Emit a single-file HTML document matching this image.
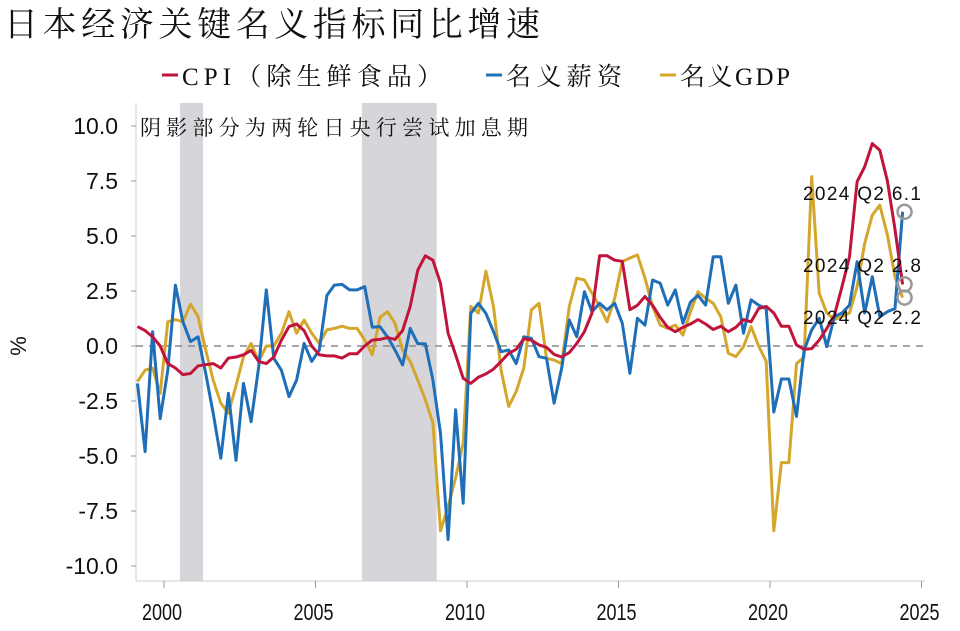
<!DOCTYPE html>
<html><head><meta charset="utf-8">
<style>
html,body{margin:0;padding:0;background:#fff;}
svg{display:block;}
text{font-family:"Liberation Sans","Noto Sans CJK SC",sans-serif;}
.cjk{font-family:"Liberation Serif","Noto Serif CJK SC",serif;}
</style></head>
<body>
<svg id="chart" width="960" height="631" viewBox="0 0 960 631" xmlns="http://www.w3.org/2000/svg">
<text x="4" y="36" class="cjk" font-size="34" fill="#111" textLength="536" lengthAdjust="spacing">日本经济关键名义指标同比增速</text>
<g>
 <g><line x1="162" y1="75" x2="178" y2="75" stroke="#c0143c" stroke-width="3"/><text x="182" y="85" class="cjk" font-size="25" fill="#111" textLength="260" lengthAdjust="spacing">CPI（除生鲜食品）</text></g>
 <g><line x1="486" y1="75" x2="502" y2="75" stroke="#1f6fb8" stroke-width="3"/><text x="506" y="85" class="cjk" font-size="25" fill="#111" textLength="116" lengthAdjust="spacing">名义薪资</text></g>
 <g><line x1="660" y1="75" x2="676" y2="75" stroke="#d4a72c" stroke-width="3"/><text x="680" y="85" class="cjk" font-size="25" fill="#111" textLength="110" lengthAdjust="spacing">名义GDP</text></g>
</g>
<g id="plot"></g>
<text x="140" y="135" class="cjk" font-size="21" fill="#111" textLength="388" lengthAdjust="spacing">阴影部分为两轮日央行尝试加息期</text>
<text transform="translate(26,346) rotate(-90)" text-anchor="middle" font-size="22" fill="#111">%</text>
</svg>
<script>
const quarters = [];
for (let y = 1999; y <= 2024; y++) for (let q = 1; q <= 4; q++) { if (y === 2024 && q > 2) break; quarters.push(y + 'Q' + q); }
const cpi = [0.88,0.7,0.42,0,-0.8,-1.0,-1.3,-1.25,-0.9,-0.85,
-0.8,-1.0,-0.55,-0.5,-0.4,-0.2,-0.7,-0.8,-0.5,0.27,
0.88,1.0,0.7,0,-0.4,-0.45,-0.45,-0.55,-0.35,-0.35,0,
0.27,0.3,0.38,0.3,0.7,1.8,3.45,4.1,3.9,2.85,
0.58,-0.4,-1.47,-1.7,-1.42,-1.27,-1.05,-0.7,-0.33,-0.15,
0.33,0.27,0.05,-0.06,-0.38,-0.5,-0.3,0.12,0.65,1.5,
4.1,4.1,3.9,3.85,1.65,1.85,2.25,1.85,1.3,0.85,
0.65,0.85,1.0,1.2,1.0,0.75,0.9,0.65,0.85,1.2,
1.1,1.7,1.8,1.5,0.9,0.9,0.05,-0.15,-0.12,0.27,0.8,
1.4,2.7,4.06,7.47,8.15,9.2,8.9,7.5,5.3,2.8];
const wage = [-1.7,-4.8,0.65,-3.3,-1.1,2.77,1.1,0.2,0.42,-1.24,
-3.06,-5.1,-2.15,-5.2,-1.7,-3.44,-0.94,2.55,-0.56,-1.1,
-2.3,-1.55,0.12,-0.7,-0.18,2.3,2.77,2.8,2.55,2.55,2.7,
0.85,0.88,0.42,-0.18,-0.86,0.8,0.1,0.1,-1.55,-3.97,
-8.8,-2.9,-7.15,1.48,1.94,1.48,0.65,-0.26,-0.18,-0.8,
0.42,0.35,-0.48,-0.56,-2.6,-1.0,1.18,0.42,2.47,1.56,
1.94,1.64,1.94,1.03,-1.24,1.26,0.95,3.0,2.85,1.86,
2.55,1.03,2.0,2.3,1.86,4.06,4.06,1.94,2.77,0.58,
2.1,1.86,1.7,-3.0,-1.5,-1.5,-3.2,-0.2,0.73,1.26,-0.03,
1.33,1.5,1.86,3.83,1.5,3.15,1.33,1.56,1.7,6.1];
const gdp = [-1.62,-1.1,-1.0,-2.15,1.1,1.2,1.1,1.9,1.33,-0.18,
-1.55,-2.6,-3.06,-1.8,-0.48,0.12,-0.7,0,0,0.58,
1.56,0.58,1.18,0.58,0.12,0.73,0.8,0.9,0.8,0.8,0.27,
-0.4,1.3,1.56,1.03,-0.18,-0.7,-1.55,-2.45,-3.5,-8.4,
-7.3,-6.0,-4.4,1.8,1.5,3.4,1.8,-1.1,-2.75,-2.07,
-1.0,1.64,1.94,-0.56,-0.64,-0.8,1.8,3.08,3.0,2.4,
1.8,1.1,2.17,3.83,4.0,4.14,3.08,1.8,0.95,0.8,
0.95,0.5,1.56,2.47,2.17,1.94,1.33,-0.33,-0.48,-0.03,
0.88,0.0,-0.7,-8.4,-5.3,-5.3,-0.8,-0.5,7.7,2.4,1.5,
1.2,1.33,1.5,2.7,4.67,5.95,6.4,5.05,3.15,2.2];
const yTicks = [10.0,7.5,5.0,2.5,0.0,-2.5,-5.0,-7.5,-10.0];
const xTicks = [2000,2005,2010,2015,2020,2025];
const hikeStart = [2000.53, 2006.53];
const hikeEnd = [2001.29, 2009.0];

const NS = 'http://www.w3.org/2000/svg';
const plot = document.getElementById('plot');
function X(year){ return 164 + (year - 2000) * 30.3; }
function Y(v){ return 346 - v * 22; }
function qYear(s){ const y = +s.slice(0,4), q = +s.slice(5); return y + (q - 0.5) / 4; }
function mk(tag, attrs, parent){ const e = document.createElementNS(NS, tag); for (const k in attrs) e.setAttribute(k, attrs[k]); (parent||plot).appendChild(e); return e; }

for (let i = 0; i < hikeStart.length; i++) {
  const r = mk('rect', {x: X(hikeStart[i]), y: 103, width: X(hikeEnd[i]) - X(hikeStart[i]), height: 478, fill: '#d6d6da'});
  
  
}
const ax = mk('line', {x1: 136, y1: 103, x2: 136, y2: 581, stroke: '#ccc', 'stroke-width': 1});


const bx = mk('line', {x1: 136, y1: 581, x2: 925, y2: 581, stroke: '#ccc', 'stroke-width': 1});


yTicks.forEach(v => {
  mk('line', {x1: 131, y1: Y(v), x2: 136, y2: Y(v), stroke: '#999'});
  const t = mk('text', {x: 118, y: Y(v) + 8, 'text-anchor': 'end', 'font-size': 23, fill: '#111'});
  t.textContent = v.toFixed(1);
  
  
});
xTicks.forEach(v => {
  mk('line', {x1: X(v), y1: 581, x2: X(v), y2: 588, stroke: '#999'});
  const t = mk('text', {x: X(v) - 2, y: 620, 'text-anchor': 'middle', 'font-size': 23, fill: '#111', 'textLength': 40, 'lengthAdjust': 'spacingAndGlyphs'});
  t.textContent = v;
  
  
});
const zl = mk('line', {x1: 136, y1: Y(0), x2: 925, y2: Y(0), stroke: '#888', 'stroke-width': 1.5, 'stroke-dasharray': '7,6'});



function series(arr, color, name){
  const d = arr.map((v,i) => (i ? 'L' : 'M') + X(qYear(quarters[i])).toFixed(1) + ',' + Y(v).toFixed(1)).join(' ');
  const p = mk('path', {d: d, fill: 'none', stroke: color, 'stroke-width': 3, 'stroke-linejoin': 'round'});
  
  
}
series(gdp, '#d4a72c', 'gdp-line');
series(wage, '#1f6fb8', 'wage-line');
series(cpi, '#c0143c', 'cpi-line');

const last = quarters.length - 1;
const ends = [[wage, 'wage'], [cpi, 'cpi'], [gdp, 'gdp']];
const labelY = [193, 265, 317];
ends.forEach((e, k) => {
  const v = e[0][last];
  const c = mk('circle', {cx: X(qYear(quarters[last])) + 2, cy: Y(v), r: 7, fill: 'none', stroke: '#999', 'stroke-width': 2.5});
  
  
  const t = mk('text', {x: 803, y: labelY[k] + 7, 'font-size': 19, fill: '#111', 'font-family': '"Liberation Mono","DejaVu Sans Mono",monospace', 'textLength': 118, 'lengthAdjust': 'spacing'});
  t.textContent = '2024 Q2 ' + v.toFixed(1);
  
  
});
</script>
</body></html>
